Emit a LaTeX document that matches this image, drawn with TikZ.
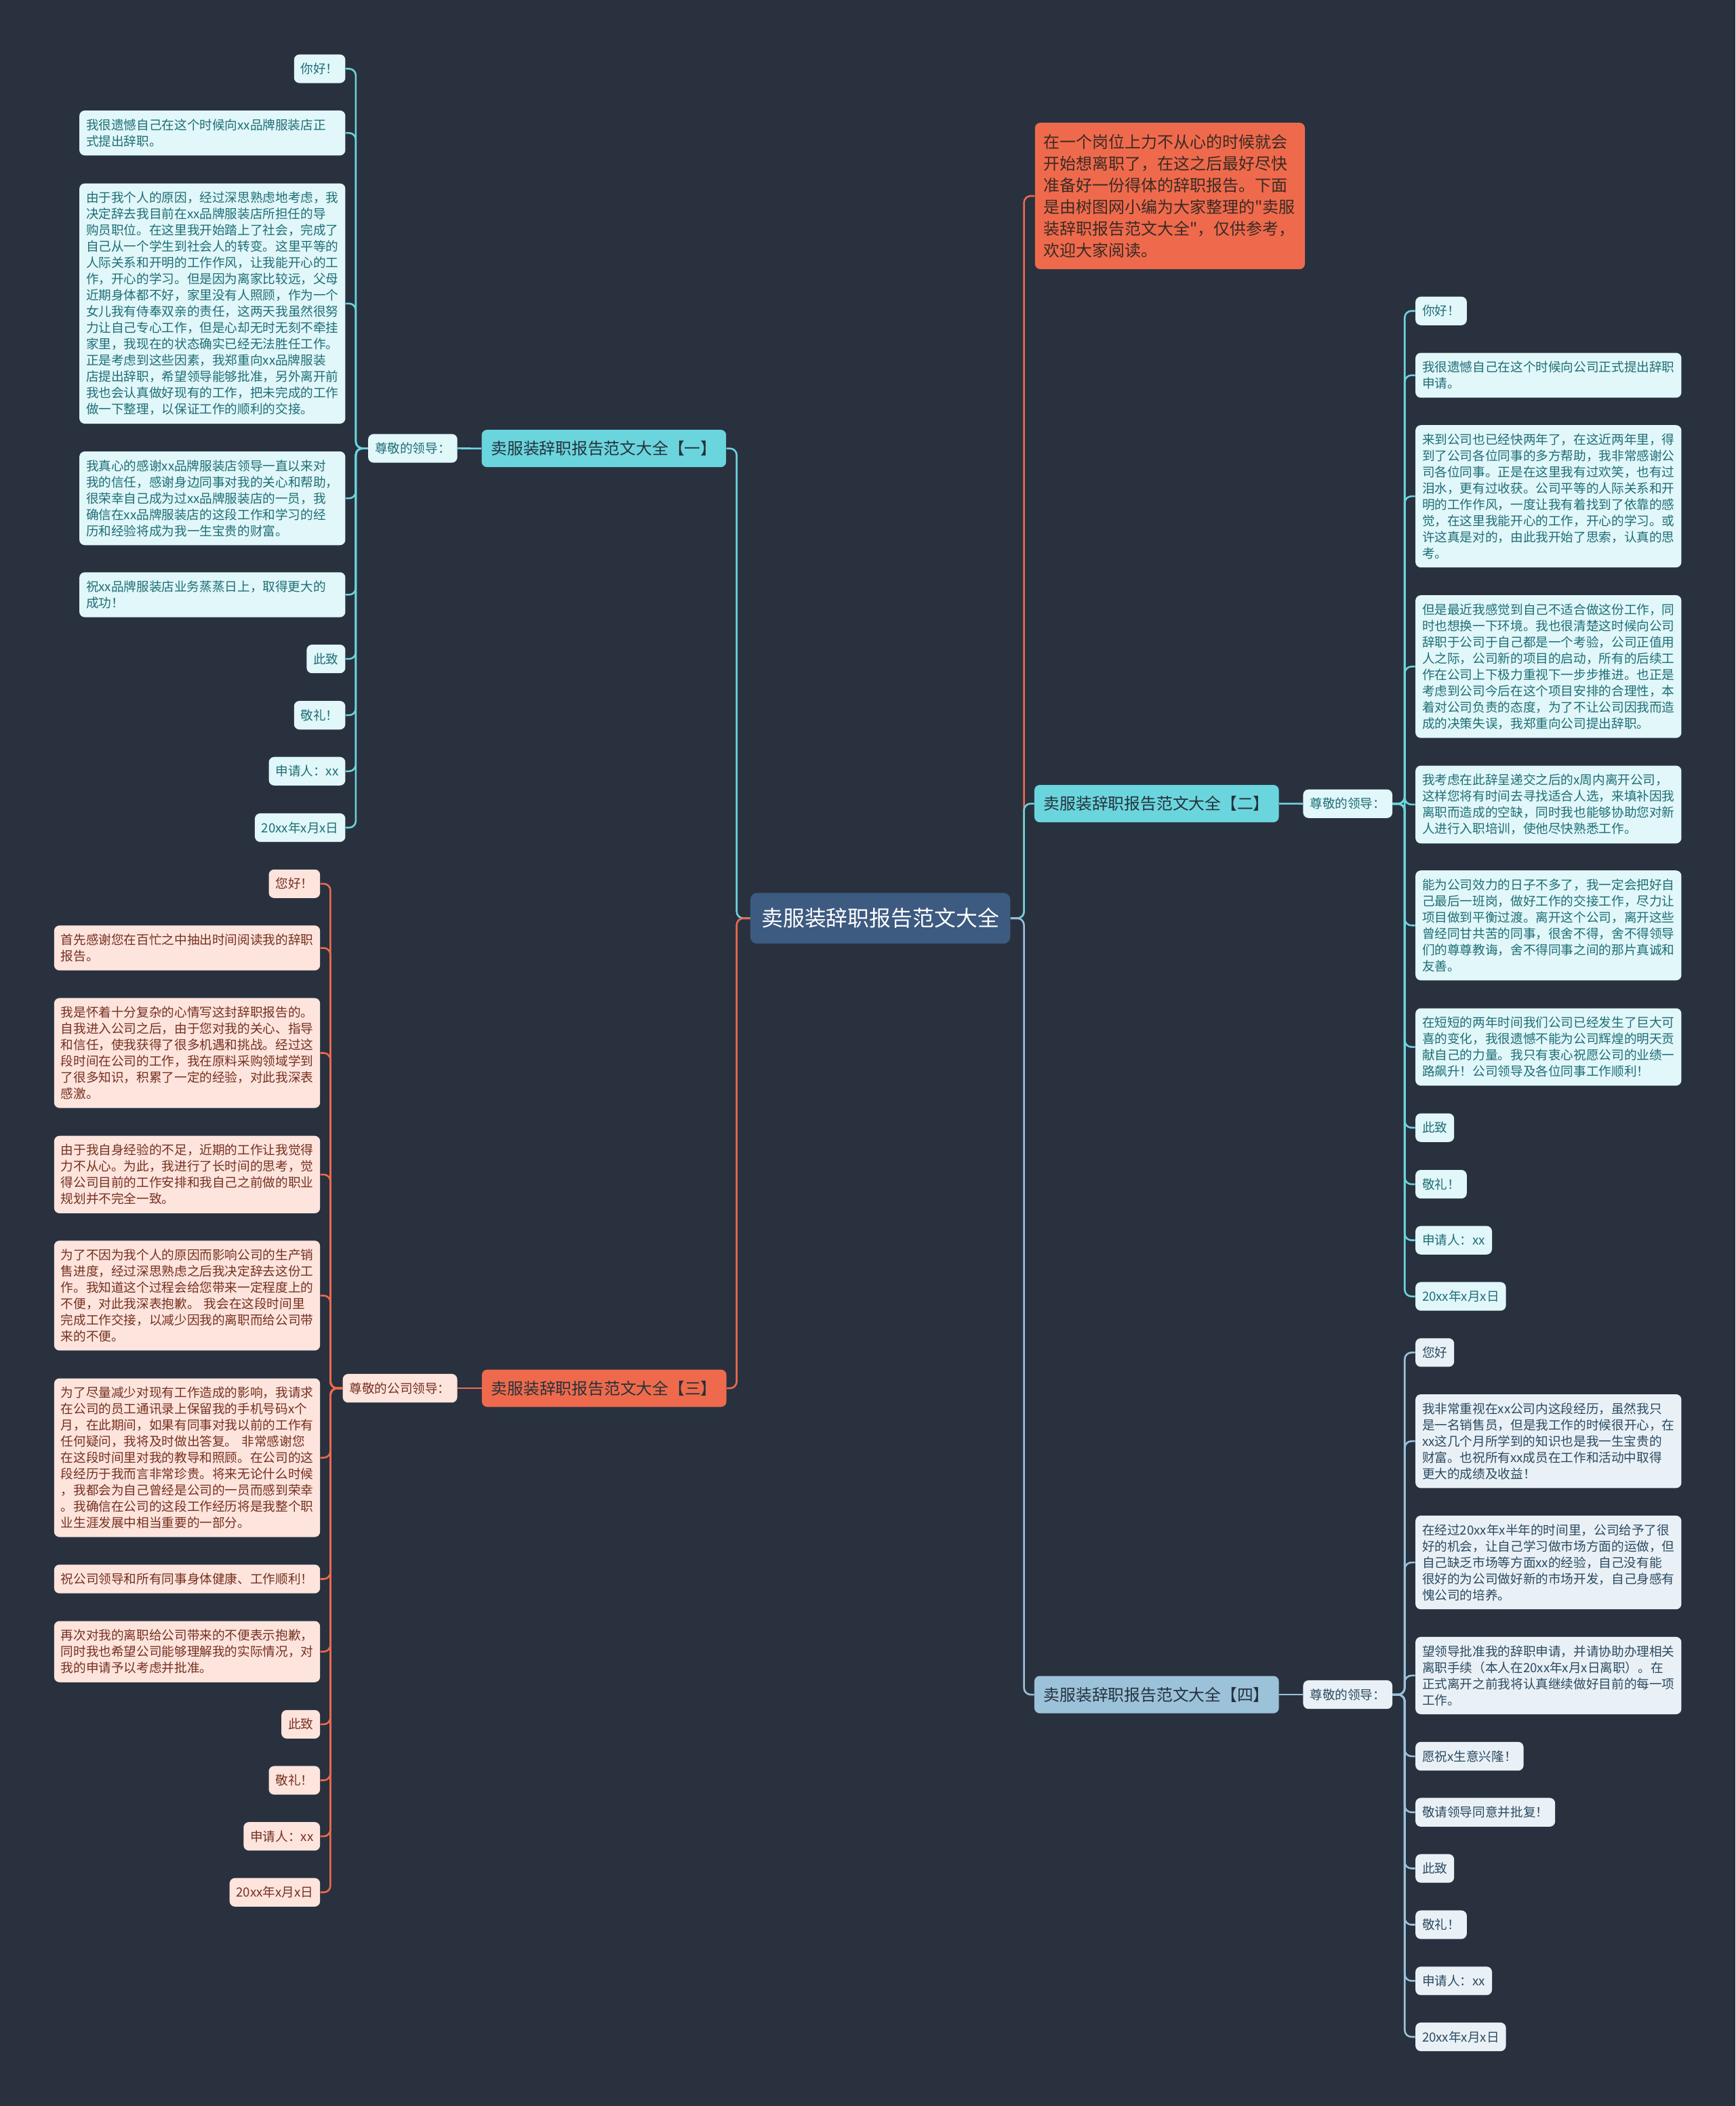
\documentclass[tikz,border=0pt]{standalone}
\usepackage{fontspec}
\setmainfont{Noto Sans CJK SC}[Ligatures=TeXOff]
\usepackage{tikz,xcolor}

\definecolor{bgc}{RGB}{41,49,63}
\definecolor{ctrc}{HTML}{3D5A80}
\definecolor{cyanc}{HTML}{6BD5DE}
\definecolor{cyanl}{HTML}{E1F7F9}
\definecolor{cyant}{HTML}{1E6E76}
\definecolor{coralc}{HTML}{EF6A4C}
\definecolor{corall}{HTML}{FDE4DD}
\definecolor{coralt}{HTML}{76301F}
\definecolor{bluec}{HTML}{9CC2DA}
\definecolor{bluel}{HTML}{E9F1F7}
\definecolor{bluet}{HTML}{2C4A60}
\definecolor{darkt}{HTML}{24323B}
\definecolor{introt}{HTML}{3A2A24}

\tikzset{
    box/.style={rounded corners=4pt, inner xsep=5pt, inner ysep=6.3pt, align=left, font=\fontsize{9.4}{12.1}\selectfont},
    widebox/.style={text width=188pt},
    cyanleaf/.style={box, fill=cyanl, text=cyant},
    coralleaf/.style={box, fill=corall, text=coralt},
    blueleaf/.style={box, fill=bluel, text=bluet},
    branchbox/.style={rounded corners=4pt, inner xsep=7pt, inner ysep=3pt, minimum width=181.4pt, minimum height=27.8pt, text=darkt, font=\fontsize{12}{14}\selectfont},
    cyanlink/.style={draw=cyanc, line width=1.3pt, rounded corners=5pt},
    corallink/.style={draw=coralc, line width=1.3pt, rounded corners=5pt},
    bluelink/.style={draw=bluec, line width=1.3pt, rounded corners=5pt}
}

\begin{document}
\begin{tikzpicture}[x=1pt, y=-1pt]
                \fill[bgc] (0,0) rectangle (1292,1568);
                \useasboundingbox (0,0) rectangle (1292,1568);

                \node[rounded corners=5pt, fill=ctrc, text=white, minimum width=193.5pt, minimum height=37.8pt, font=\fontsize{16.1}{18}\selectfont] (ctr) at (655.4,683.7) {卖服装辞职报告范文大全};
                \node[anchor=west, rounded corners=4pt, fill=coralc, text=introt, text width=188pt, inner xsep=6.5pt, inner ysep=8pt, minimum height=109pt, align=left, font=\fontsize{12.1}{16.15}\selectfont] (intro) at (770.3,145.9) {在一个岗位上力不从心的时候就会\\开始想离职了，在这之后最好尽快\\准备好一份得体的辞职报告。下面\\是由树图网小编为大家整理的"卖服\\装辞职报告范文大全"，仅供参考，\\欢迎大家阅读。};

                \node[branchbox, fill=cyanc] (br1) at (449.6,333.9) {卖服装辞职报告范文大全【一】};
                \node[branchbox, fill=cyanc] (br2) at (861.1,598.3) {卖服装辞职报告范文大全【二】};
                \node[branchbox, fill=coralc] (br3) at (449.8,1033.6) {卖服装辞职报告范文大全【三】};
                \node[branchbox, fill=bluec] (br4) at (861.1,1261.7) {卖服装辞职报告范文大全【四】};

                \node[cyanleaf, anchor=east] (sa) at (340.7,333.8) {尊敬的领导：};
                \node[cyanleaf, anchor=west] (sb) at (970,598.4) {尊敬的领导：};
                \node[coralleaf, anchor=east] (sc) at (340.6,1033.6) {尊敬的公司领导：};
                \node[blueleaf, anchor=west] (sd) at (970,1261.7) {尊敬的领导：};

                \node[cyanleaf, anchor=east] (a1) at (257.3,51.2) {你好！};
                \node[cyanleaf, widebox, anchor=east] (a2) at (257.3,99) {我很遗憾自己在这个时候向xx品牌服装店正\\式提出辞职。};
                \node[cyanleaf, widebox, anchor=east] (a3) at (257.3,226) {由于我个人的原因，经过深思熟虑地考虑，我\\决定辞去我目前在xx品牌服装店所担任的导\\购员职位。在这里我开始踏上了社会，完成了\\自己从一个学生到社会人的转变。这里平等的\\人际关系和开明的工作作风，让我能开心的工\\作，开心的学习。但是因为离家比较远，父母\\近期身体都不好，家里没有人照顾，作为一个\\女儿我有侍奉双亲的责任，这两天我虽然很努\\力让自己专心工作，但是心却无时无刻不牵挂\\家里，我现在的状态确实已经无法胜任工作。\\正是考虑到这些因素，我郑重向xx品牌服装\\店提出辞职，希望领导能够批准，另外离开前\\我也会认真做好现有的工作，把未完成的工作\\做一下整理，以保证工作的顺利的交接。};
                \node[cyanleaf, widebox, anchor=east] (a4) at (257.3,371) {我真心的感谢xx品牌服装店领导一直以来对\\我的信任，感谢身边同事对我的关心和帮助，\\很荣幸自己成为过xx品牌服装店的一员，我\\确信在xx品牌服装店的这段工作和学习的经\\历和经验将成为我一生宝贵的财富。};
                \node[cyanleaf, widebox, anchor=east] (a5) at (257.3,442.8) {祝xx品牌服装店业务蒸蒸日上，取得更大的\\成功！};
                \node[cyanleaf, anchor=east] (a6) at (257.3,490.6) {此致};
                \node[cyanleaf, anchor=east] (a7) at (257.3,532.5) {敬礼！};
                \node[cyanleaf, anchor=east] (a8) at (257.3,574.2) {申请人：xx};
                \node[cyanleaf, anchor=east] (a9) at (257.3,616.2) {20xx年x月x日};

                \node[cyanleaf, anchor=west] (b1) at (1053.6,231.5) {你好！};
                \node[cyanleaf, widebox, anchor=west] (b2) at (1053.6,279.4) {我很遗憾自己在这个时候向公司正式提出辞职\\申请。};
                \node[cyanleaf, widebox, anchor=west] (b3) at (1053.6,369.5) {来到公司也已经快两年了，在这近两年里，得\\到了公司各位同事的多方帮助，我非常感谢公\\司各位同事。正是在这里我有过欢笑，也有过\\泪水，更有过收获。公司平等的人际关系和开\\明的工作作风，一度让我有着找到了依靠的感\\觉，在这里我能开心的工作，开心的学习。或\\许这真是对的，由此我开始了思索，认真的思\\考。};
                \node[cyanleaf, widebox, anchor=west] (b4) at (1053.6,496.3) {但是最近我感觉到自己不适合做这份工作，同\\时也想换一下环境。我也很清楚这时候向公司\\辞职于公司于自己都是一个考验，公司正值用\\人之际，公司新的项目的启动，所有的后续工\\作在公司上下极力重视下一步步推进。也正是\\考虑到公司今后在这个项目安排的合理性，本\\着对公司负责的态度，为了不让公司因我而造\\成的决策失误，我郑重向公司提出辞职。};
                \node[cyanleaf, widebox, anchor=west] (b5) at (1053.6,599) {我考虑在此辞呈递交之后的x周内离开公司，\\这样您将有时间去寻找适合人选，来填补因我\\离职而造成的空缺，同时我也能够协助您对新\\人进行入职培训，使他尽快熟悉工作。};
                \node[cyanleaf, widebox, anchor=west] (b6) at (1053.6,689) {能为公司效力的日子不多了，我一定会把好自\\己最后一班岗，做好工作的交接工作，尽力让\\项目做到平衡过渡。离开这个公司，离开这些\\曾经同甘共苦的同事，很舍不得，舍不得领导\\们的尊尊教诲，舍不得同事之间的那片真诚和\\友善。};
                \node[cyanleaf, widebox, anchor=west] (b7) at (1053.6,779.5) {在短短的两年时间我们公司已经发生了巨大可\\喜的变化，我很遗憾不能为公司辉煌的明天贡\\献自己的力量。我只有衷心祝愿公司的业绩一\\路飙升！公司领导及各位同事工作顺利！};
                \node[cyanleaf, anchor=west] (b8) at (1053.6,839.6) {此致};
                \node[cyanleaf, anchor=west] (b9) at (1053.6,881.7) {敬礼！};
                \node[cyanleaf, anchor=west] (b10) at (1053.6,923.4) {申请人：xx};
                \node[cyanleaf, anchor=west] (b11) at (1053.6,965.2) {20xx年x月x日};

                \node[coralleaf, anchor=east] (c1) at (238.5,658) {您好！};
                \node[coralleaf, widebox, anchor=east] (c2) at (238.5,705.8) {首先感谢您在百忙之中抽出时间阅读我的辞职\\报告。};
                \node[coralleaf, widebox, anchor=east] (c3) at (238.5,784) {我是怀着十分复杂的心情写这封辞职报告的。\\自我进入公司之后，由于您对我的关心、指导\\和信任，使我获得了很多机遇和挑战。经过这\\段时间在公司的工作，我在原料采购领域学到\\了很多知识，积累了一定的经验，对此我深表\\感激。};
                \node[coralleaf, widebox, anchor=east] (c4) at (238.5,874.5) {由于我自身经验的不足，近期的工作让我觉得\\力不从心。为此，我进行了长时间的思考，觉\\得公司目前的工作安排和我自己之前做的职业\\规划并不完全一致。};
                \node[coralleaf, widebox, anchor=east] (c5) at (238.5,964.6) {为了不因为我个人的原因而影响公司的生产销\\售进度，经过深思熟虑之后我决定辞去这份工\\作。我知道这个过程会给您带来一定程度上的\\不便，对此我深表抱歉。 我会在这段时间里\\完成工作交接，以减少因我的离职而给公司带\\来的不便。};
                \node[coralleaf, widebox, anchor=east] (c6) at (238.5,1085.3) {为了尽量减少对现有工作造成的影响，我请求\\在公司的员工通讯录上保留我的手机号码x个\\月，在此期间，如果有同事对我以前的工作有\\任何疑问，我将及时做出答复。 非常感谢您\\在这段时间里对我的教导和照顾。在公司的这\\段经历于我而言非常珍贵。将来无论什么时候\\，我都会为自己曾经是公司的一员而感到荣幸\\。我确信在公司的这段工作经历将是我整个职\\业生涯发展中相当重要的一部分。};
                \node[coralleaf, widebox, anchor=east] (c7) at (238.5,1175.6) {祝公司领导和所有同事身体健康、工作顺利！};
                \node[coralleaf, widebox, anchor=east] (c8) at (238.5,1229.7) {再次对我的离职给公司带来的不便表示抱歉，\\同时我也希望公司能够理解我的实际情况，对\\我的申请予以考虑并批准。};
                \node[coralleaf, anchor=east] (c9) at (238.5,1283.8) {此致};
                \node[coralleaf, anchor=east] (c10) at (238.5,1325.5) {敬礼！};
                \node[coralleaf, anchor=east] (c11) at (238.5,1367.2) {申请人：xx};
                \node[coralleaf, anchor=east] (c12) at (238.5,1408.9) {20xx年x月x日};

                \node[blueleaf, anchor=west] (d1) at (1053.6,1007) {您好};
                \node[blueleaf, widebox, anchor=west] (d2) at (1053.6,1073) {我非常重视在xx公司内这段经历，虽然我只\\是一名销售员，但是我工作的时候很开心，在\\xx这几个月所学到的知识也是我一生宝贵的\\财富。也祝所有xx成员在工作和活动中取得\\更大的成绩及收益！};
                \node[blueleaf, widebox, anchor=west] (d3) at (1053.6,1163.3) {在经过20xx年x半年的时间里，公司给予了很\\好的机会，让自己学习做市场方面的运做，但\\自己缺乏市场等方面xx的经验，自己没有能\\很好的为公司做好新的市场开发，自己身感有\\愧公司的培养。};
                \node[blueleaf, widebox, anchor=west] (d4) at (1053.6,1247.5) {望领导批准我的辞职申请，并请协助办理相关\\离职手续（本人在20xx年x月x日离职）。在\\正式离开之前我将认真继续做好目前的每一项\\工作。};
                \node[blueleaf, anchor=west] (d5) at (1053.6,1307.6) {愿祝x生意兴隆！};
                \node[blueleaf, anchor=west] (d6) at (1053.6,1349.3) {敬请领导同意并批复！};
                \node[blueleaf, anchor=west] (d7) at (1053.6,1391.1) {此致};
                \node[blueleaf, anchor=west] (d8) at (1053.6,1433) {敬礼！};
                \node[blueleaf, anchor=west] (d9) at (1053.6,1474.8) {申请人：xx};
                \node[blueleaf, anchor=west] (d10) at (1053.6,1516.5) {20xx年x月x日};

                \draw[corallink] (ctr.east) -- ++(10,0) |- (intro.west);
                \draw[cyanlink] (ctr.east) -- ++(10,0) |- (br2.west);
                \draw[bluelink] (ctr.east) -- ++(10,0) |- (br4.west);
                \draw[cyanlink] (ctr.west) -- ++(-10,0) |- (br1.east);
                \draw[corallink] (ctr.west) -- ++(-10,0) |- (br3.east);

                \draw[cyanlink] (br1.west) -- (sa.east);
                \draw[cyanlink] (br2.east) -- (sb.west);
                \draw[corallink] (br3.west) -- (sc.east);
                \draw[bluelink] (br4.east) -- (sd.west);

                \foreach \i in {1,...,9} \draw[cyanlink] (sa.west) -- ++(-9,0) |- (a\i.east);
                \foreach \i in {1,...,11} \draw[cyanlink] (sb.east) -- ++(9,0) |- (b\i.west);
                \foreach \i in {1,...,12} \draw[corallink] (sc.west) -- ++(-9,0) |- (c\i.east);
                \foreach \i in {1,...,10} \draw[bluelink] (sd.east) -- ++(9,0) |- (d\i.west);
\end{tikzpicture}
\end{document}
